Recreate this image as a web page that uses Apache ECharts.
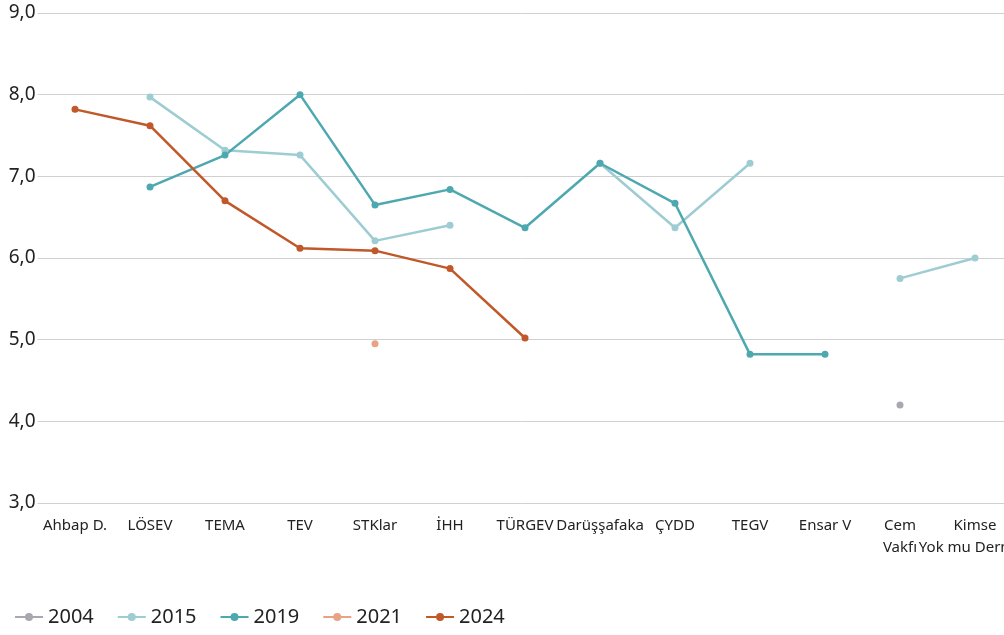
<!DOCTYPE html>
<html>
<head>
<meta charset="UTF-8">
<script src="https://cdn.jsdelivr.net/npm/echarts@6/dist/echarts.min.js"></script>
<style>
  html, body { margin: 0; padding: 0; background: #fff; }
  #main { width: 1004px; height: 635px; }
</style>
</head>
<body>
<div id="main"></div>
<script type="text/javascript">
  // kategoriler
  var categories = ['Ahbap D.', 'LÖSEV', 'TEMA', 'TEV', 'STKlar', 'İHH', 'TÜRGEV',
    'Darüşşafaka', 'ÇYDD', 'TEGV', 'Ensar V', 'Cem\nVakfı', 'Kimse\nYok mu Derneği'];

  // yıllara göre değerler
  var years = ['2004', '2015', '2019', '2021', '2024'];
  var v2004 = [null, null, null, null, null, null, null, null, null, null, null, 4.20, null];
  var v2015 = [null, 7.97, 7.32, 7.26, 6.21, 6.40, null, 7.16, 6.37, 7.16, null, 5.75, 6.00];
  var v2019 = [null, 6.87, 7.26, 8.00, 6.65, 6.84, 6.37, 7.16, 6.67, 4.82, 4.82, null, null];
  var v2021 = [null, null, null, null, 4.95, null, null, null, null, null, null, null, null];
  var v2024 = [7.82, 7.62, 6.70, 6.12, 6.09, 5.87, 5.02, null, null, null, null, null, null];

  var colors = ['#a9a8b0', '#9dcdd2', '#4ea8b0', '#e8a284', '#c0582a'];
  var values = [v2004, v2015, v2019, v2021, v2024];

  var series = [];
  for (var i = 0; i < years.length; i++) {
    series.push({
      name: years[i],
      type: 'line',
      data: values[i],
      symbol: 'circle',
      symbolSize: 7,
      showAllSymbol: true,
      connectNulls: false,
      lineStyle: { width: 2.5, color: colors[i] },
      itemStyle: { color: colors[i] },
      emphasis: { disabled: true }
    });
  }

  var myChart = echarts.init(document.getElementById('main'));
  var option = {
    animation: false,
    color: colors,
    textStyle: { fontFamily: 'Noto Sans' },
    grid: {
      left: 37.5, top: 13, width: 975, height: 490,
      containLabel: false, outerBoundsMode: 'none'
    },
    legend: {
      left: 9,
      bottom: 3,
      itemWidth: 28,
      itemHeight: 10,
      itemGap: 23,
      textStyle: { fontSize: 20, color: '#222', fontFamily: 'Noto Sans' },
      data: years
    },
    xAxis: {
      type: 'category',
      data: categories,
      boundaryGap: true,
      axisLine: { show: false },
      axisTick: { show: false },
      axisLabel: {
        interval: 0,
        margin: 12,
        fontSize: 15,
        color: '#222',
        lineHeight: 22,
        fontFamily: 'Noto Sans'
      }
    },
    yAxis: {
      type: 'value',
      min: 3,
      max: 9,
      interval: 1,
      axisLine: { show: false },
      axisTick: { show: false },
      splitLine: { lineStyle: { color: '#d0d0d0', width: 1 } },
      axisLabel: {
        fontSize: 19,
        color: '#222',
        margin: 2,
        fontFamily: 'Noto Sans',
        formatter: function (v) { return v.toFixed(1).replace('.', ','); }
      }
    },
    series: series
  };
  myChart.setOption(option, true);
</script>
</body>
</html>
